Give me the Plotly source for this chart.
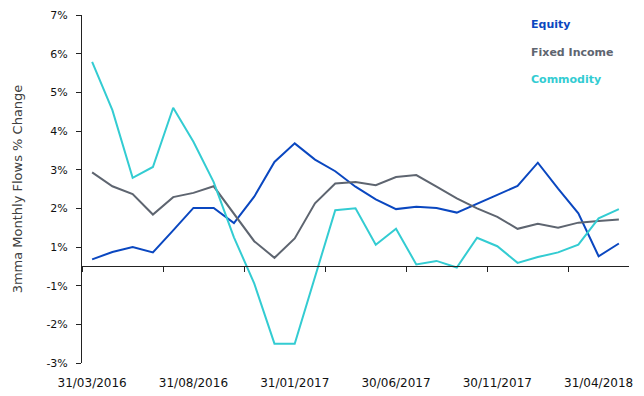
import plotly.graph_objects as go

# Monthly 3mma flows, % change (Mar-2016 .. May-2018)
equity = [0.18, 0.37, 0.50, 0.36, 0.93, 1.51, 1.51, 1.12, 1.80, 2.70, 3.18, 2.76, 2.46, 2.06,
          1.73, 1.48, 1.54, 1.51, 1.39, 1.61, 1.85, 2.08, 2.68, 2.01, 1.37, 0.26, 0.59]
fixed_income = [2.43, 2.07, 1.87, 1.34, 1.79, 1.90, 2.07, 1.37, 0.65, 0.22, 0.72, 1.63, 2.14, 2.18,
                2.10, 2.31, 2.36, 2.06, 1.76, 1.50, 1.28, 0.97, 1.10, 1.00, 1.13, 1.17, 1.21]
commodity = [5.29, 4.04, 2.29, 2.57, 4.10, 3.22, 2.18, 0.75, -0.44, -2.00, -2.00, -0.26, 1.45, 1.50,
             0.56, 0.97, 0.05, 0.14, -0.03, 0.74, 0.52, 0.09, 0.24, 0.36, 0.56, 1.24, 1.48]

x_label_pos = [0, 5, 10, 15, 20, 25]
x_labels = ["31/03/2016", "31/08/2016", "31/01/2017", "30/06/2017", "30/11/2017", "31/04/2018"]

y_tickvals = [6.5, 5.5, 4.5, 3.5, 2.5, 1.5, 0.5, -0.5, -1.5, -2.5]
y_ticktext = ["7%", "6%", "5%", "4%", "3%", "2%", "1%", "-1%", "-2%", "-3%"]

series = [("Equity", equity, "#0A47C0"),
          ("Fixed Income", fixed_income, "#5E6570"),
          ("Commodity", commodity, "#33CCD2")]

n = len(equity)
xs = list(range(n))
minor_ticks = [-0.5 + 4 * k for k in range(7)]

fig = go.Figure()
for name, vals, col in series:
    fig.add_trace(go.Scatter(x=xs, y=vals, mode="lines", name=name,
                             line=dict(color=col, width=2), showlegend=False))

# invisible trace to create the zero-line axis
fig.add_trace(go.Scatter(x=[0], y=[None], xaxis="x2", mode="lines",
                         showlegend=False, hoverinfo="skip"))

Y_MIN, Y_MAX = -2.5, 6.5
zero_pos = (0 - Y_MIN) / (Y_MAX - Y_MIN)

fig.update_layout(
    width=644, height=396,
    margin=dict(l=82, r=15, t=15, b=33),
    paper_bgcolor="white", plot_bgcolor="white",
    font=dict(family="DejaVu Sans", color="#222222"),
    xaxis=dict(range=[-0.5, n - 0.5], tickvals=x_label_pos, ticktext=x_labels,
               showgrid=False, zeroline=False, showline=False, automargin=False,
               ticks="outside", ticklen=9, tickcolor="rgba(0,0,0,0)",
               tickfont=dict(size=12, color="#111111")),
    xaxis2=dict(range=[-0.5, n - 0.5], overlaying="x", anchor="free", position=zero_pos,
                showgrid=False, zeroline=False, showline=True, linecolor="#222222", linewidth=1,
                ticks="outside", ticklen=5, tickcolor="#222222", tickvals=minor_ticks,
                showticklabels=False, automargin=False),
    yaxis=dict(range=[Y_MIN, Y_MAX], tickvals=y_tickvals, ticktext=y_ticktext,
               showgrid=False, zeroline=False, showline=True, linecolor="#222222", linewidth=1,
               ticks="outside", ticklen=5, tickcolor="#222222", ticklabelstandoff=6,
               tickfont=dict(size=11, color="#111111"), automargin=False,
               title=dict(text="3mma Monthly Flows % Change", standoff=20,
                          font=dict(size=13, color="#404040"))),
)

legend_y = [24.5, 52, 79.5]
for (name, vals, col), yy in zip(series, legend_y):
    fig.add_annotation(text="<b>" + name + "</b>", xref="paper", yref="paper",
                       x=(529 - 82) / (644 - 82 - 15), y=1 - (yy - 15) / (396 - 15 - 33),
                       xanchor="left", yanchor="middle", showarrow=False,
                       font=dict(size=11, color=col, family="DejaVu Sans"))

fig.write_html("out.html")
